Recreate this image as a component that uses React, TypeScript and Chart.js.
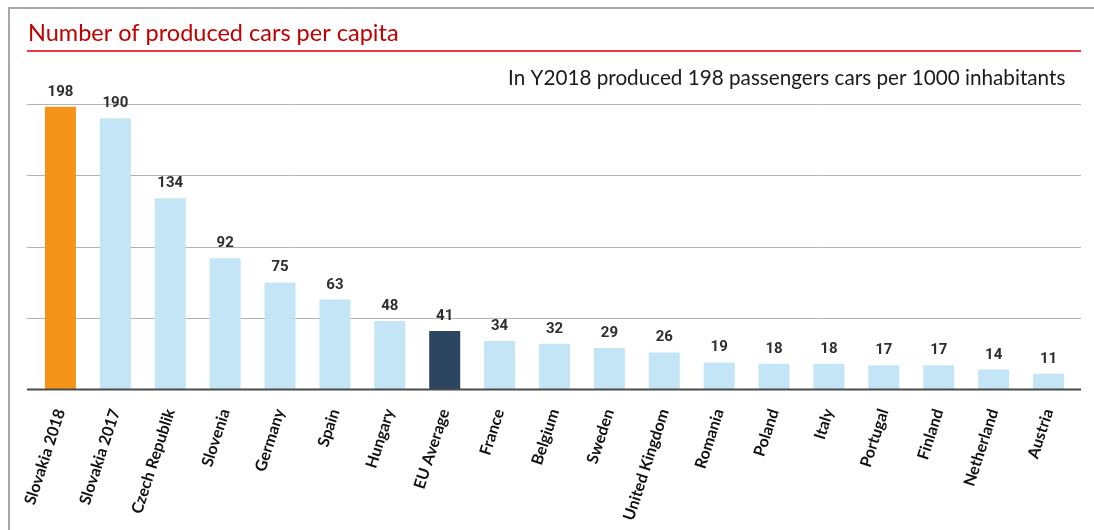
import React, { useEffect, useRef } from "react";
import { Chart, registerables } from "chart.js";

Chart.register(...registerables);

const categories: string[] = [
  "Slovakia 2018",
  "Slovakia 2017",
  "Czech Republik",
  "Slovenia",
  "Germany",
  "Spain",
  "Hungary",
  "EU Average",
  "France",
  "Belgium",
  "Sweden",
  "United Kingdom",
  "Romania",
  "Poland",
  "Italy",
  "Portugal",
  "Finland",
  "Netherland",
  "Austria",
];

const carsPer1000: number[] = [198, 190, 134, 92, 75, 63, 48, 41, 34, 32, 29, 26, 19, 18, 18, 17, 17, 14, 11];

const gridValues: number[] = [0, 50, 100, 150, 200];

const titleText = "Number of produced cars per capita";
const noteText = "In Y2018 produced 198 passengers cars per 1000 inhabitants";

const COLOR_HIGHLIGHT = "#F39419";
const COLOR_AVERAGE = "#2C4661";
const COLOR_DEFAULT = "#C3E5F6";

function barColor(label: string): string {
  if (label === "Slovakia 2018") return COLOR_HIGHLIGHT;
  if (label === "EU Average") return COLOR_AVERAGE;
  return COLOR_DEFAULT;
}

const decorPlugin = {
  id: "decor",
  beforeDatasetsDraw(chart: any) {
    const { ctx, chartArea, scales } = chart;
    const y = scales.y;
    ctx.save();
    ctx.strokeStyle = "#b3b3b3";
    ctx.lineWidth = 1;
    for (const v of gridValues) {
      if (v === 0) continue;
      const py = Math.round(y.getPixelForValue(v)) + 0.5;
      ctx.beginPath();
      ctx.moveTo(chartArea.left - 6, py);
      ctx.lineTo(chartArea.right + 5, py);
      ctx.stroke();
    }
    ctx.restore();
  },
  afterDatasetsDraw(chart: any) {
    const { ctx, chartArea, scales } = chart;
    const y = scales.y;
    ctx.save();
    const y0 = y.getPixelForValue(0);
    ctx.strokeStyle = "#4a4a4a";
    ctx.lineWidth = 2;
    ctx.beginPath();
    ctx.moveTo(chartArea.left - 6, y0);
    ctx.lineTo(chartArea.right + 5, y0);
    ctx.stroke();
    const meta = chart.getDatasetMeta(0);
    ctx.fillStyle = "#2e2e2e";
    ctx.font = "bold 15px 'Liberation Sans Narrow', 'Roboto', sans-serif";
    ctx.textAlign = "center";
    ctx.textBaseline = "alphabetic";
    meta.data.forEach((el: any, i: number) => {
      ctx.fillText(String(carsPer1000[i]), el.x, el.y - 11);
    });
    ctx.restore();
  },
  afterDraw(chart: any) {
    const { ctx, chartArea } = chart;
    ctx.save();
    ctx.strokeStyle = "#a8a8a8";
    ctx.lineWidth = 2;
    ctx.beginPath();
    ctx.moveTo(9, 531);
    ctx.lineTo(9, 8);
    ctx.lineTo(1094, 8);
    ctx.stroke();
    ctx.fillStyle = "#C00000";
    ctx.font = "23.5px Lato, 'Open Sans', sans-serif";
    ctx.textAlign = "left";
    ctx.textBaseline = "alphabetic";
    ctx.fillText(titleText, 28, 41);
    ctx.strokeStyle = "#E53946";
    ctx.lineWidth = 2;
    ctx.beginPath();
    ctx.moveTo(chartArea.left - 6, 51);
    ctx.lineTo(chartArea.right + 5, 51);
    ctx.stroke();
    ctx.fillStyle = "#1a1a1a";
    ctx.font = "20.7px Lato, 'Open Sans', sans-serif";
    ctx.fillText(noteText, 508, 85);
    ctx.restore();
  },
};

export default function App() {
  const canvasRef = useRef<HTMLCanvasElement | null>(null);

  useEffect(() => {
    const canvas = canvasRef.current;
    if (!canvas) return;
    const chart = new Chart(canvas, {
      type: "bar",
      data: {
        labels: categories,
        datasets: [
          {
            data: carsPer1000,
            backgroundColor: categories.map(barColor),
            borderWidth: 0,
            barPercentage: 0.565,
            categoryPercentage: 1,
          },
        ],
      },
      options: {
        responsive: false,
        animation: false,
        devicePixelRatio: 1,
        layout: { padding: { top: 104, left: 33, right: 18, bottom: 0 } },
        plugins: {
          legend: { display: false },
          tooltip: { enabled: false },
          title: { display: false },
        },
        scales: {
          x: {
            grid: { display: false, drawTicks: false },
            border: { display: false },
            ticks: {
              autoSkip: false,
              minRotation: 72,
              maxRotation: 72,
              padding: 17,
              color: "#111111",
              font: { family: "Lato, 'Open Sans', sans-serif", weight: "bold", size: 16 },
            },
            afterFit: (s: any) => {
              s.height = 140.5;
            },
          },
          y: {
            display: false,
            min: 0,
            max: 200,
          },
        },
      },
      plugins: [decorPlugin],
    });
    return () => chart.destroy();
  }, []);

  return (
    <div style={{ position: "absolute", left: 0, top: 0, width: 1094, height: 530, background: "#ffffff" }}>
      <canvas ref={canvasRef} width={1094} height={530} style={{ display: "block" }} />
    </div>
  );
}
